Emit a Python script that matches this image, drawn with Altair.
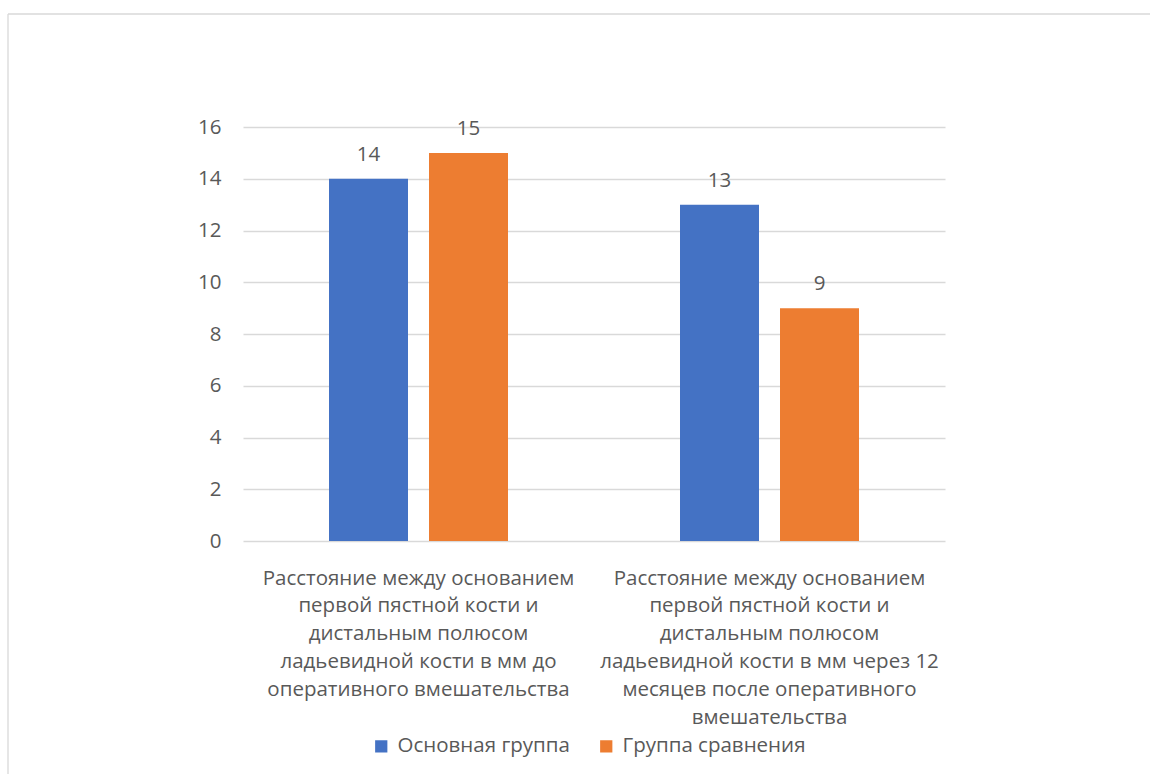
import altair as alt
import pandas as pd

categories = [
    "Расстояние между основанием\nпервой пястной кости и\nдистальным полюсом\nладьевидной кости в мм до\nоперативного вмешательства",
    "Расстояние между основанием\nпервой пястной кости и\nдистальным полюсом\nладьевидной кости в мм через 12\nмесяцев после оперативного\nвмешательства",
]
groups = ["Основная группа", "Группа сравнения"]
values_main = [14, 13]
values_comp = [15, 9]
colors = ["#4472C4", "#ED7D31"]

rows = []
for c, v in zip(categories, values_main):
    rows.append({"cat": c, "group": groups[0], "value": v})
for c, v in zip(categories, values_comp):
    rows.append({"cat": c, "group": groups[1], "value": v})
df = pd.DataFrame(rows)

FONT = "Open Sans"
TXT = "#595959"
FS = 20.5

x = alt.X("cat:N", sort=categories, title=None,
          scale=alt.Scale(paddingInner=0, paddingOuter=0),
          axis=alt.Axis(labelAngle=0, labelExpr="split(datum.value, '\\n')",
                        labelFont=FONT, labelFontSize=FS, labelColor=TXT,
                        labelLineHeight=27.8, labelPadding=37, labelBaseline="middle",
                        labelLimit=500, domain=False, ticks=False))
xo = alt.XOffset("group:N", sort=groups,
                 scale=alt.Scale(paddingInner=0.21, paddingOuter=0.86))
y = alt.Y("value:Q", title=None,
          scale=alt.Scale(domain=[0, 16], nice=False),
          axis=alt.Axis(values=[0, 2, 4, 6, 8, 10, 12, 14, 16], labelFont=FONT,
                        labelFontSize=FS, labelColor=TXT, labelPadding=22,
                        ticks=False, domain=False, gridColor="#D9D9D9",
                        gridWidth=1.3))
color = alt.Color("group:N", sort=groups,
                  scale=alt.Scale(domain=groups, range=colors),
                  legend=alt.Legend(title=None, orient="none", legendX=128,
                                    legendY=609, direction="horizontal",
                                    symbolType="square", symbolSize=150,
                                    symbolStrokeWidth=0, labelLimit=400,
                                    labelFont=FONT, labelFontSize=FS,
                                    labelColor=TXT, columnPadding=26,
                                    labelOffset=6))

base = alt.Chart(df)
bars = base.mark_bar().encode(x=x, xOffset=xo, y=y, color=color)
labels = base.mark_text(baseline="bottom", dy=-14, font=FONT, fontSize=FS,
                        color=TXT).encode(x=x, xOffset=xo, y=y,
                                          text=alt.Text("value:Q"))

border = pd.DataFrame({"k": [0]})
top_line = alt.Chart(border).mark_rule(color="#D9D9D9", strokeWidth=1.3).encode(
    x=alt.value(-235), x2=alt.value(920), y=alt.value(-113))
left_line = alt.Chart(border).mark_rule(color="#D9D9D9", strokeWidth=1.3).encode(
    x=alt.value(-235), y=alt.value(-113), y2=alt.value(660))

chart = alt.layer(top_line, left_line, bars, labels).properties(
    width=702, height=414,
    autosize=alt.AutoSizeParams(type="none"),
    padding={"left": 243, "top": 127, "right": 205, "bottom": 233},
).configure(background="white").configure_view(stroke=None)

chart.save("out.html", embed_options={"renderer": "svg", "actions": False})
